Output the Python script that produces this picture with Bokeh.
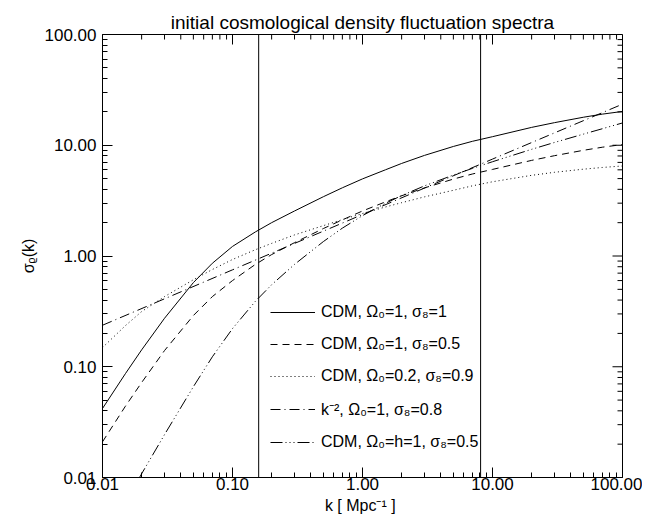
import numpy as np
from bokeh.plotting import figure
from bokeh.models import Span, Legend, LegendItem, PrintfTickFormatter, FixedTicker
from bokeh.embed import file_html
from bokeh.resources import INLINE

# ---- data ----
k_grid = [0.01, 0.015, 0.02, 0.03, 0.05, 0.07, 0.1, 0.15, 0.2, 0.3, 0.5, 0.7,
          1, 1.5, 2, 3, 5, 7, 10, 20, 30, 50, 70, 100]
cdm_1_1 = [0.042, 0.0866, 0.142, 0.274, 0.575, 0.86, 1.22, 1.65, 2.0, 2.55, 3.43, 4.13,
           4.97, 6.0, 6.85, 8.1, 9.75, 10.85, 11.95, 14.5, 16.0, 17.9, 19.1, 20.2]
cdm_1_05 = [0.021, 0.044, 0.072, 0.14, 0.29, 0.43, 0.6, 0.84, 1.03, 1.32, 1.77, 2.12,
            2.55, 3.08, 3.5, 4.12, 4.95, 5.5, 6.05, 7.3, 8.05, 9.0, 9.6, 10.15]
cdm_02_09 = [0.149, 0.235, 0.315, 0.43, 0.61, 0.755, 0.93, 1.14, 1.3, 1.55, 1.88, 2.13,
             2.42, 2.77, 3.03, 3.42, 3.92, 4.3, 4.68, 5.35, 5.7, 6.08, 6.3, 6.5]
k_pow = [0.01, 0.1, 1, 10, 100]
pow_k2 = [0.237, 0.75, 2.37, 7.5, 23.5]
k_h1 = [0.015, 0.02, 0.03, 0.05, 0.07, 0.1, 0.15, 0.2, 0.3, 0.5, 0.7,
        1, 1.5, 2, 3, 5, 7, 10, 20, 30, 50, 70, 100]
cdm_h1_05 = [0.006, 0.0108, 0.0244, 0.066, 0.123, 0.221, 0.39, 0.55, 0.84, 1.35, 1.785,
             2.315, 2.99, 3.51, 4.3, 5.38, 6.18, 7.1, 9.19, 10.6, 12.6, 14.1, 15.9]
vlines = [0.159, 8.1]
labels = ["CDM, Ω\u2080=1, σ\u2088=1",
          "CDM, Ω\u2080=1, σ\u2088=0.5",
          "CDM, Ω\u2080=0.2, σ\u2088=0.9",
          "k\u207b\u00b2, Ω\u2080=1, σ\u2088=0.8",
          "CDM, Ω\u2080=h=1, σ\u2088=0.5"]
major_ticks = [0.01, 0.1, 1, 10, 100]
minor_ticks = [m * 10.0 ** e for e in range(-2, 2) for m in range(2, 10)]
x_lo, x_hi = 0.01, 100
y_lo, y_hi = 0.01, 100

FONT = "Liberation Sans"

p = figure(x_axis_type="log", y_axis_type="log", x_range=(x_lo, x_hi), y_range=(y_lo, y_hi),
           frame_width=520, frame_height=443, min_border_left=102, min_border_right=20,
           min_border_top=34, min_border_bottom=10,
           output_backend="svg", toolbar_location=None,
           title="initial cosmological density fluctuation spectra")
p.title.text_font = FONT
p.title.text_font_size = "19px"
p.title.text_font_style = "normal"
p.title.text_color = "black"
p.title.align = "center"
p.title.standoff = 4
p.grid.visible = False
p.outline_line_color = "black"
p.outline_line_alpha = 1
p.background_fill_color = "white"
p.border_fill_color = "white"

def style_axis(ax):
    ax.ticker = FixedTicker(ticks=major_ticks, minor_ticks=minor_ticks)
    ax.formatter = PrintfTickFormatter(format="%.2f")
    ax.major_tick_in = 10
    ax.major_tick_out = 0
    ax.minor_tick_in = 5
    ax.minor_tick_out = 0
    ax.axis_line_color = "black"
    ax.major_tick_line_color = "black"
    ax.minor_tick_line_color = "black"
    ax.major_label_text_font = FONT
    ax.major_label_text_font_size = "17px"
    ax.major_label_text_color = "black"
    ax.axis_label_text_font = FONT
    ax.axis_label_text_font_size = "16px"
    ax.axis_label_text_font_style = "normal"
    ax.axis_label_text_color = "black"

style_axis(p.xaxis[0])
style_axis(p.yaxis[0])
p.xaxis[0].axis_label = "k  [ Mpc\u207b\u00b9 ]"
p.yaxis[0].axis_label = "σ\u1d68(k)"
p.xaxis[0].major_label_standoff = 0
p.xaxis[0].axis_label_standoff = 4
p.yaxis[0].major_label_standoff = 6
p.yaxis[0].axis_label_standoff = 5

# inward ticks along the top and right frame edges (mirrored axes, no labels)
p.ray(x=major_ticks, y=[y_hi] * len(major_ticks), length=10, angle=-np.pi / 2,
      length_units="screen", line_color="black", line_width=1)
p.ray(x=minor_ticks, y=[y_hi] * len(minor_ticks), length=5, angle=-np.pi / 2,
      length_units="screen", line_color="black", line_width=1)
p.ray(x=[x_hi] * len(major_ticks), y=major_ticks, length=10, angle=np.pi,
      length_units="screen", line_color="black", line_width=1)
p.ray(x=[x_hi] * len(minor_ticks), y=minor_ticks, length=5, angle=np.pi,
      length_units="screen", line_color="black", line_width=1)

for v in vlines:
    p.add_layout(Span(location=v, dimension="height", line_color="black", line_width=1))

r1 = p.line(k_grid, cdm_1_1, line_color="black", line_width=1)
r2 = p.line(k_grid, cdm_1_05, line_color="black", line_width=1, line_dash="7 5")
r3 = p.line(k_grid, cdm_02_09, line_color="black", line_width=1, line_dash="1 3")
r4 = p.line(k_pow, pow_k2, line_color="black", line_width=1, line_dash="10 4 1 4")
r5 = p.line(k_h1, cdm_h1_05, line_color="black", line_width=1,
            line_dash="12 3 1 3 1 3 1 3")

legend = Legend(items=[LegendItem(label=l, renderers=[r]) for l, r in
                       zip(labels, [r1, r2, r3, r4, r5])],
                location=(168, 25), glyph_width=45, glyph_height=20, label_height=20,
                spacing=12, padding=0, margin=0, label_standoff=6,
                border_line_alpha=0, background_fill_alpha=0,
                label_text_font=FONT, label_text_font_size="16px",
                label_text_color="black")
p.add_layout(legend)

open("out.html", "w").write(file_html(p, INLINE))
